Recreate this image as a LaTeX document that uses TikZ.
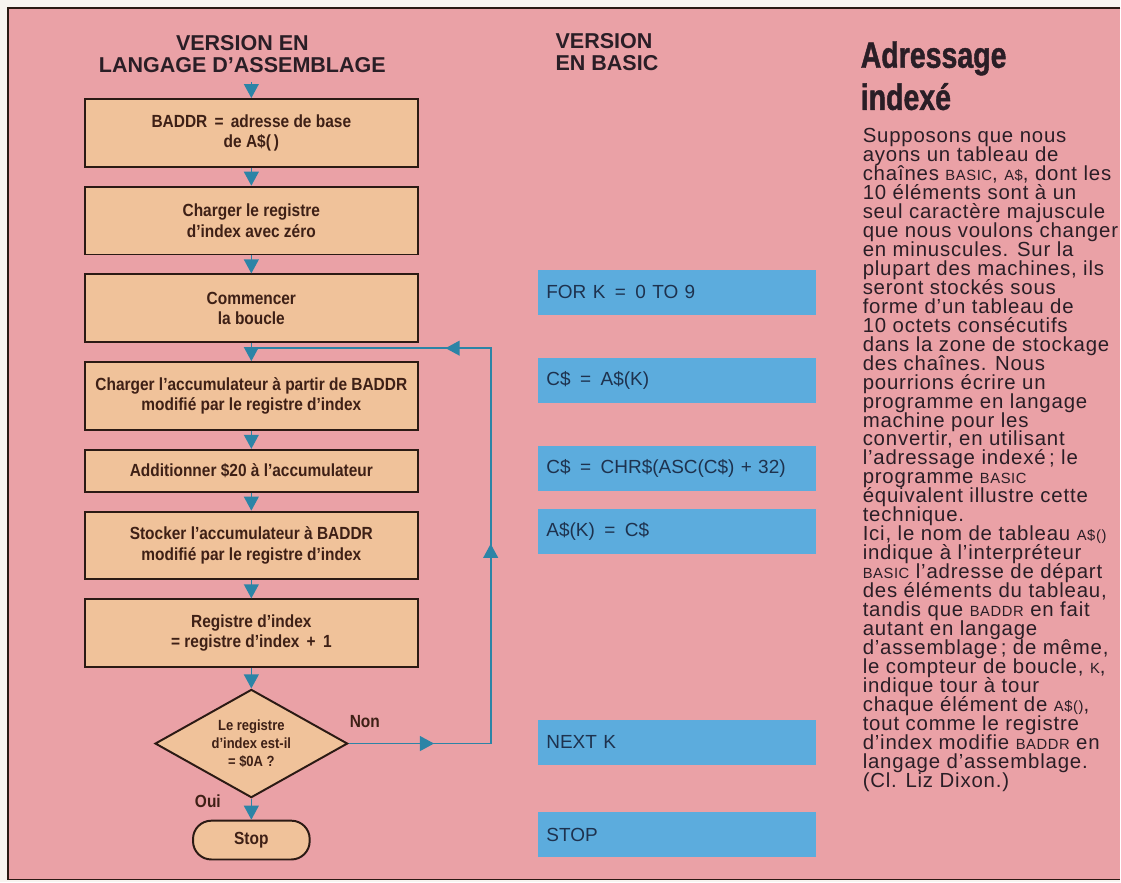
\documentclass[tikz,border=0pt]{standalone}
\usepackage{fontspec}
\usepackage{tikz}
\usetikzlibrary{positioning, calc, arrows.meta, shapes.geometric, decorations.markings}
\setmainfont{Liberation Sans}
\newfontfamily\condfont[FakeStretch=0.88]{Liberation Sans}
\newfontfamily\titrefont[FakeStretch=0.78, FakeBold=1.2]{Liberation Sans}
\newfontfamily\textefont[LetterSpace=4]{Liberation Sans}
\setlength{\lineskiplimit}{-20pt}
\newcommand{\petit}[1]{{\fontsize{10.5}{13.5}\selectfont #1}}

\definecolor{blanc}{RGB}{248,244,240}
\definecolor{rose}{RGB}{234,161,166}
\definecolor{peche}{RGB}{240,194,154}
\definecolor{trait}{RGB}{43,26,20}
\definecolor{brun}{RGB}{62,32,22}
\definecolor{bleu}{RGB}{92,172,221}
\definecolor{encre}{RGB}{30,50,78}
\definecolor{fleche}{RGB}{44,132,166}
\definecolor{noir}{RGB}{42,30,38}

\begin{document}
\begin{tikzpicture}[x=0.025cm, y=-0.025cm, node distance=12.8pt,
    >={Triangle[width=10.5pt,length=10pt]},
    boite/.style={draw=trait, line width=1.4pt, fill=peche, text=brun,
        minimum width=237pt, minimum height=48.2pt, inner sep=2pt, align=center,
        font=\condfont\bfseries\fontsize{12.5}{14.5}\selectfont},
    test/.style={diamond, aspect=1.77, draw=trait, line width=1.4pt, fill=peche, text=brun,
        minimum width=137pt, minimum height=77pt, inner sep=0pt, align=center,
        font=\condfont\bfseries\fontsize{10.5}{13}\selectfont},
    fin/.style={draw=trait, line width=1.4pt, fill=peche, text=brun,
        rounded corners=13pt, minimum width=83pt, minimum height=27.6pt,
        font=\condfont\bfseries\fontsize{12.5}{14.5}\selectfont},
    lab/.style={text=brun, font=\condfont\bfseries\fontsize{12.5}{14.5}\selectfont},
    titre/.style={text=noir, align=center, font=\bfseries\fontsize{15.3}{15.6}\selectfont},
    code/.style={fill=bleu, text=encre, anchor=west, inner xsep=6pt,
        text width=186pt, minimum height=32pt, align=left,
        font=\fontsize{13.5}{15}\selectfont},
    flux/.style={->, fleche, line width=1.2pt},
    boucle/.style={fleche, line width=1.2pt, postaction={decorate},
        decoration={markings,
            mark=at position 0.11 with {\arrow{>}},
            mark=at position 0.44 with {\arrow{>}},
            mark=at position 0.75 with {\arrow{>}}}}]

    % fond et cadre
    \fill[blanc] (0,0) rectangle (1121,883);
    \fill[rose] (8,8) rectangle (1121,880);
    \draw[trait, line width=1pt] (1121,8) -- (8,8) -- (8,880) -- (1121,880);

    % titres des colonnes
    \node[titre] (hasm) at (242.5,54) {VERSION EN\\LANGAGE D’ASSEMBLAGE};
    \node[titre, align=left, anchor=west] (hbas) at (551,52) {VERSION\\EN BASIC};

    % organigramme
    \node[boite] (b1) at (251.5,133) {BADDR \,=\, adresse de base\\de A\$(\,)};
    \node[boite] (b2) [below=of b1] {Charger le registre\\d’index avec zéro};
    \node[boite] (b3) [below=of b2] {Commencer\\la boucle};
    \node[boite] (b4) [below=of b3] {Charger l’accumulateur à partir de BADDR\\modifié par le registre d’index};
    \node[boite, minimum height=29.8pt] (b5) [below=of b4] {Additionner \$20 à l’accumulateur};
    \node[boite] (b6) [below=of b5] {Stocker l’accumulateur à BADDR\\modifié par le registre d’index};
    \node[boite] (b7) [below=of b6] {Registre d’index\\= registre d’index \,+\, 1};
    \node[test] (dec) [below=14.5pt of b7] {Le registre\\d’index est-il\\= \$0A ?};
    \node[fin] (stop) [below=15pt of dec] {Stop};
    \node[lab] (non) at (365,722) {Non};
    \node[lab] (oui) at (208,802) {Oui};

    \coordinate (entree) at (251.5,82);
    \coordinate (retour) at ($(b4.north)+(0,-13)$);
    \coordinate (droite) at (491,0);

    \draw[flux] (entree) -- (b1);
    \path[flux]
    (b1) edge (b2)
    (b2) edge (b3)
    (b3) edge (b4)
    (b4) edge (b5)
    (b5) edge (b6)
    (b6) edge (b7)
    (b7) edge (dec)
    (dec) edge (stop);
    \draw[boucle] (dec.east) -- (dec.east -| droite) -- (droite |- retour) -- (retour);

    % version BASIC
    \node[code] (for) at (538,292.5) {FOR K \,=\, 0 TO 9};
    \node[code] (cegal) at (538,381) {C\$ \,=\, A\$(K)};
    \node[code] (chr) at (538,468.5) {C\$ \,=\, CHR\$(ASC(C\$) + 32)};
    \node[code] (aegal) at (538,531.5) {A\$(K) \,=\, C\$};
    \node[code] (next) at (538,742.5) {NEXT K};
    \node[code] (fin) at (538,835) {STOP};

    % texte
    \node[anchor=north west, align=left, inner sep=0pt, text=noir,
        font=\titrefont\bfseries\fontsize{26}{30}\selectfont] (titre) at (861,41) {Adressage\\indexé};
    \node[anchor=north west, align=left, inner sep=0pt, text=noir,
        font=\textefont\fontsize{14.5}{13.5}\selectfont] (texte) at (863,128) {Supposons que nous\\
ayons un tableau de\\
chaînes \petit{BASIC}, \petit{A\$}, dont les\\
10 éléments sont à un\\
seul caractère majuscule\\
que nous voulons changer\\
en minuscules. Sur la\\
plupart des machines, ils\\
seront stockés sous\\
forme d’un tableau de\\
10 octets consécutifs\\
dans la zone de stockage\\
des chaînes. Nous\\
pourrions écrire un\\
programme en langage\\
machine pour les\\
convertir, en utilisant\\
l’adressage indexé\,; le\\
programme \petit{BASIC}\\
équivalent illustre cette\\
technique.\\
Ici, le nom de tableau \petit{A\$()}\\
indique à l’interpréteur\\
\petit{BASIC} l’adresse de départ\\
des éléments du tableau,\\
tandis que \petit{BADDR} en fait\\
autant en langage\\
d’assemblage\,; de même,\\
le compteur de boucle, \petit{K},\\
indique tour à tour\\
chaque élément de \petit{A\$()},\\
tout comme le registre\\
d’index modifie \petit{BADDR} en\\
langage d’assemblage.\\
(Cl. Liz Dixon.)};
\end{tikzpicture}
\end{document}
